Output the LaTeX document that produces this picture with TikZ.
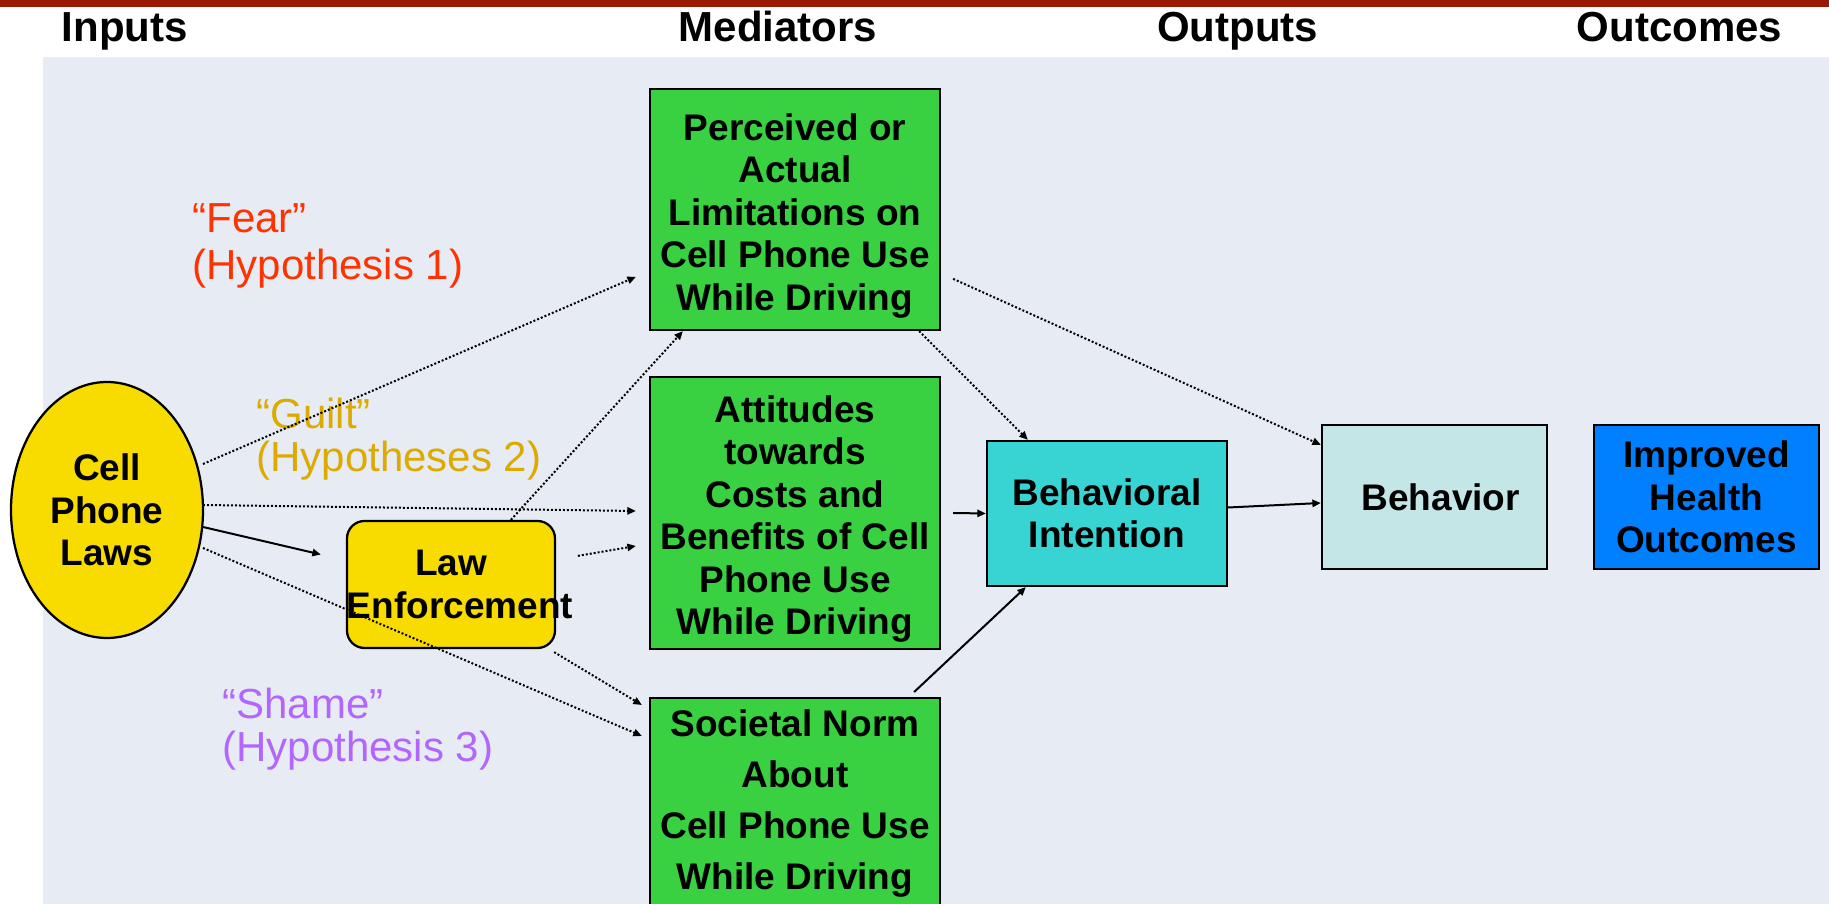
\documentclass[tikz,border=0pt]{standalone}
\usepackage{fontspec}
\setmainfont{Liberation Sans}
\usetikzlibrary{arrows.meta,shapes.geometric}
\definecolor{barred}{HTML}{9B1805}
\definecolor{panel}{HTML}{E7ECF4}
\definecolor{mgreen}{HTML}{39D142}
\definecolor{lawyellow}{HTML}{F8DC00}
\definecolor{bicyan}{HTML}{38D4D4}
\definecolor{behcol}{HTML}{C4E6E7}
\definecolor{outblue}{HTML}{0080FF}
\definecolor{fearred}{HTML}{FF3300}
\definecolor{guiltgold}{HTML}{DDAA00}
\definecolor{shamepurple}{HTML}{B266FF}
\begin{document}
\begin{tikzpicture}[x=0.4pt,y=-0.4pt,
  titletext/.style={font=\fontsize{16.8pt}{20pt}\selectfont\bfseries, anchor=base, inner sep=0},
  boxfont/.style={font=\fontsize{14.8pt}{17pt}\selectfont\bfseries},
  socfont/.style={font=\fontsize{14.8pt}{20.4pt}\selectfont\bfseries},
  framed/.style={draw=black, line width=0.9pt, inner sep=0, align=center, boxfont},
  gbox/.style={framed, fill=mgreen, minimum width=116pt},
  hyp/.style={font=\fontsize{16.8pt}{18.8pt}\selectfont, align=left, anchor=base west, inner sep=0},
  hyptight/.style={hyp, font=\fontsize{16.8pt}{17.3pt}\selectfont},
  link/.style={line width=0.8pt, -{Triangle[length=3.4pt,width=2.9pt]}},
  dotlink/.style={link, dash pattern=on 0.8pt off 0.8pt}]
\useasboundingbox (0,0) rectangle (1829,904);
\clip (0,0) rectangle (1829,904);
\fill[white] (0,0) rectangle (1829,904);
\fill[panel] (43,57) rectangle (1829,904);
\fill[barred] (0,0) rectangle (1829,7);

% titles
\node[titletext] (tin) at (124.7,42) {Inputs};
\node[titletext] (tmed) at (778,42) {Mediators};
\node[titletext] (tout) at (1237.5,42) {Outputs};
\node[titletext] (toc) at (1679.5,42) {Outcomes};

% inputs
\node[ellipse, framed, fill=lawyellow, minimum width=76.8pt, minimum height=102.4pt] (cpl) at (107,510) {Cell\\Phone\\Laws};
\node[framed, fill=lawyellow, rounded corners=7pt, minimum width=83.2pt, minimum height=50.8pt, text width=83.2pt] (le) at (451,584.5) {Law\\Enforcement};

% mediators
\node[gbox, minimum height=96.4pt, text height=83.6pt] (per) at (795,209.5) {Perceived or\\Actual\\Limitations on\\Cell Phone Use\\While Driving};
\node[gbox, minimum height=108.8pt, text height=100.6pt] (att) at (795,513) {Attitudes\\towards\\Costs and\\Benefits of Cell\\Phone Use\\While Driving};
\node[gbox, minimum height=96pt, anchor=north] (soc) at (795,697) {};
\node[socfont, align=center, anchor=base, inner sep=0] (soctxt) at (795,890) {Societal Norm\\About\\Cell Phone Use\\While Driving};

% outputs / outcomes
\node[framed, fill=bicyan, minimum width=96pt, minimum height=58pt] (bi) at (1107,513.5) {Behavioral\\Intention};
\node[framed, fill=behcol, minimum width=90pt, minimum height=57.6pt] (beh) at (1434.5,497) {\hspace{5pt}Behavior};
\node[framed, fill=outblue, minimum width=90pt, minimum height=57.6pt] (iho) at (1706.5,497) {Improved\\Health\\Outcomes};

% hypothesis labels
\node[hyp, text=fearred] (fear) at (192,280) {“Fear”\\(Hypothesis 1)};
\node[hyptight, text=guiltgold] (guilt) at (256,472) {“Guilt”\\(Hypotheses 2)};
\node[hyptight, text=shamepurple] (shame) at (222,762) {“Shame”\\(Hypothesis 3)};

% connectors
\draw[dotlink] ([shift={(96,-46)}]cpl.center) -- ([shift={(-13,189)}]per.north west);
\draw[dotlink] ([shift={(96,-5)}]cpl.center) -- ([shift={(-13,-2)}]att.west);
\draw[link] ([shift={(96,17)}]cpl.center) -- ([shift={(-25,-30)}]le.west);
\draw[dotlink] ([shift={(96,38)}]cpl.center) -- ([shift={(-7,39)}]soc.north west);
\draw[dotlink] ([shift={(165,0)}]le.north west) -- ([shift={(34,0)}]per.south west);
\draw[dotlink] ([shift={(232,36)}]le.north west) -- ([shift={(-13,33)}]att.west);
\draw[dotlink] ([shift={(-2,3)}]le.south east) -- ([shift={(-7,8)}]soc.north west);
\draw[dotlink] ([shift={(-22,0)}]per.south east) -- ([shift={(42,0)}]bi.north west);
\draw[dotlink] ([shift={(12,191)}]per.north east) -- ([shift={(0,21)}]beh.north west);
\draw[link] ([shift={(12,0)}]att.east) -- (bi.west);
\draw[link] ([shift={(-27,-5)}]soc.north east) -- ([shift={(40,0)}]bi.south west);
\draw[link] ([shift={(0,-6)}]bi.east) -- ([shift={(0,6)}]beh.west);
\end{tikzpicture}
\end{document}
